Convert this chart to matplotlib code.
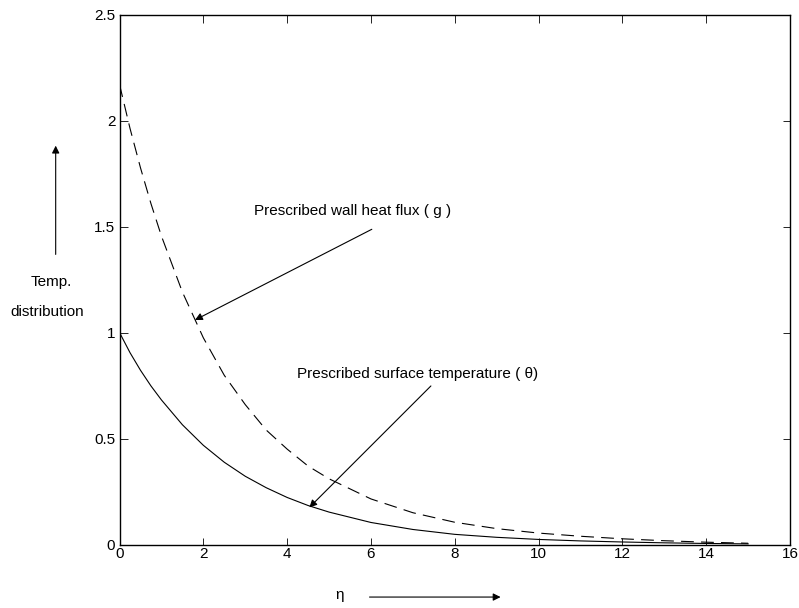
import numpy as np
import matplotlib
matplotlib.use("Agg")
import matplotlib.pyplot as plt

plt.rcParams['font.family'] = ['Liberation Sans', 'DejaVu Sans']

# values
eta = [0, 0.25, 0.5, 0.75, 1, 1.5, 2, 2.5, 3, 3.5, 4, 4.5, 5, 6, 7, 8, 9, 10, 11, 12, 13, 14, 15]
theta = [1.0, 0.905, 0.822, 0.748, 0.682, 0.565, 0.468, 0.388, 0.322, 0.268, 0.222, 0.184,
         0.153, 0.104, 0.071, 0.048, 0.034, 0.024, 0.017, 0.012, 0.008, 0.005, 0.003]
g = [2.17, 1.963, 1.777, 1.608, 1.455, 1.191, 0.975, 0.798, 0.66, 0.54, 0.45, 0.37,
     0.31, 0.215, 0.15, 0.105, 0.075, 0.054, 0.039, 0.027, 0.018, 0.011, 0.006]

x_ticks = [0, 2, 4, 6, 8, 10, 12, 14, 16]
y_ticks = [0, 0.5, 1, 1.5, 2, 2.5]
y_labels = ["0", "0.5", "1", "1.5", "2", "2.5"]

fs = 11

fig = plt.figure(figsize=(7.99, 6.08), dpi=100)
ax = fig.add_axes([0.1496, 0.1044, 0.8392, 0.8717])

ax.plot(eta, theta, color='k', lw=0.8)
ax.plot(eta, g, color='k', lw=0.8, dashes=(11.5, 6.5))

ax.set_xlim(0, 16)
ax.set_ylim(0, 2.5)
ax.set_xticks(x_ticks)
ax.set_yticks(y_ticks)
ax.set_yticklabels(y_labels)
ax.tick_params(direction='in', top=True, right=True, length=5.4, width=0.6,
               labelsize=fs)
ax.tick_params(axis='x', pad=2)
ax.tick_params(axis='y', pad=3)
for sp in ax.spines.values():
    sp.set_linewidth(1.0)

arrow = dict(arrowstyle='-|>', mutation_scale=11, lw=0.8, color='k',
             shrinkA=0, shrinkB=0)

ax.text(5.57, 1.575, "Prescribed wall heat flux ( g )", fontsize=fs,
        ha='center', va='center')
ax.annotate("", xy=(1.80, 1.059), xytext=(6.02, 1.487), arrowprops=arrow)

ax.text(7.1, 0.803, "Prescribed surface temperature ( θ)", fontsize=fs,
        ha='center', va='center')
ax.annotate("", xy=(4.53, 0.175), xytext=(7.43, 0.748), arrowprops=arrow)

# axis captions with arrows, placed in figure coords
fig.text(0.0645, 0.536, "Temp.", fontsize=fs, ha='center', va='center')
fig.text(0.0588, 0.487, "distribution", fontsize=fs, ha='center', va='center')
fig.patches.append(matplotlib.patches.FancyArrowPatch(
    (0.0697, 0.577), (0.0697, 0.765), transform=fig.transFigure,
    arrowstyle='-|>', mutation_scale=11, lw=0.8, color='k'))

fig.text(0.4255, 0.0214, "η", fontsize=fs, ha='center', va='center')
fig.patches.append(matplotlib.patches.FancyArrowPatch(
    (0.459, 0.018), (0.630, 0.018), transform=fig.transFigure,
    arrowstyle='-|>', mutation_scale=11, lw=0.8, color='k'))

fig.savefig("out.png", dpi=100)
